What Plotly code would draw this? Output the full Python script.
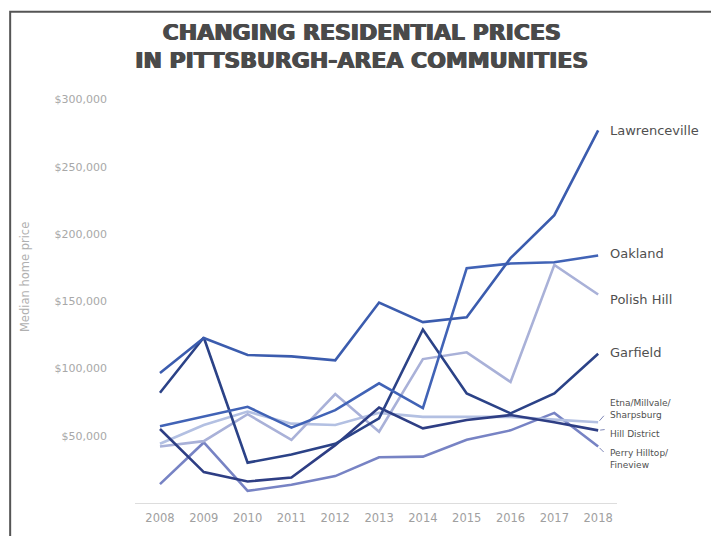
import plotly.graph_objects as go

years = [2008, 2009, 2010, 2011, 2012, 2013, 2014, 2015, 2016, 2017, 2018]

lawrenceville = [96600, 122600, 110000, 109000, 106000, 149000, 134500, 138000, 182000, 214000, 277000]
oakland = [57000, 64000, 71500, 56000, 69000, 89000, 70600, 174600, 178000, 179000, 184000]
polish_hill = [42000, 46000, 66000, 47000, 81000, 53000, 107000, 112000, 90000, 177000, 155000]
garfield = [82000, 123000, 30000, 36000, 44000, 63000, 129000, 81500, 66600, 81500, 111000]
etna = [44000, 58000, 68000, 59000, 58000, 67000, 64000, 64000, 64000, 62000, 60000]
hill_district = [55000, 23000, 16000, 19000, 43000, 71000, 55500, 61700, 65400, 60000, 54000]
perry = [14000, 45000, 9000, 13500, 20000, 34000, 34500, 47000, 54000, 67000, 42000]

series_names = ["Lawrenceville", "Oakland", "Polish Hill", "Garfield",
                "Etna/Millvale/<br>Sharpsburg", "Hill District", "Perry Hilltop/<br>Fineview"]
series_values = [lawrenceville, oakland, polish_hill, garfield, etna, hill_district, perry]
series_colors = ["#3b5cae", "#4163b6", "#a9b1d8", "#2b4287", "#b3c0e2", "#2e3e84", "#7783c4"]
label_y = [277000, 185500, 151000, 112000, 70000, 51000, 33000]
label_size = [13, 13, 13, 13, 9, 9, 9]

y_ticks = [50000, 100000, 150000, 200000, 250000, 300000]
y_tick_text = ["$50,000", "$100,000", "$150,000", "$200,000", "$250,000", "$300,000"]

FONT = "DejaVu Sans, sans-serif"

fig = go.Figure()
draw_order = [6, 4, 2, 5, 3, 1, 0]
for i in draw_order:
    fig.add_trace(go.Scatter(
        x=years, y=series_values[i], mode="lines", name=series_names[i],
        line=dict(color=series_colors[i], width=2.6), showlegend=False,
        hoverinfo="skip"))

annotations = []
for i, name in enumerate(series_names):
    annotations.append(dict(
        x=years[-1], y=label_y[i], xref="x", yref="y", text=name,
        showarrow=False, xanchor="left", yanchor="middle", xshift=10,
        align="left",
        font=dict(family=FONT, size=label_size[i], color="#505050")))

# small leader strokes between line ends and the small labels
for vals, ax, ay in [(etna, 7, -8), (hill_district, 8, -1), (perry, 7, 7)]:
    annotations.append(dict(
        x=years[-1], y=vals[-1], xref="x", yref="y", text="",
        showarrow=True, arrowhead=0, arrowwidth=1, arrowcolor="#8088b8",
        ax=ax, ay=ay, standoff=2, startstandoff=0))

annotations.append(dict(
    x=-0.228, y=0.542, xref="paper", yref="paper", text="Median home price",
    showarrow=False, textangle=-90, xanchor="center", yanchor="middle",
    font=dict(family=FONT, size=11.5, color="#b0b0b0")))

fig.update_layout(
    width=719, height=536,
    margin=dict(l=127, r=110, t=78, b=41),
    paper_bgcolor="white", plot_bgcolor="white",
    title=dict(
        text="CHANGING RESIDENTIAL PRICES<br>IN PITTSBURGH-AREA COMMUNITIES",
        x=0.492, xanchor="center", y=0.941, yanchor="middle",
        font=dict(family=FONT, size=22, color="#4a4a4a", weight="bold",
                  shadow="0.7px 0 0 #4a4a4a, -0.7px 0 0 #4a4a4a")),
    annotations=annotations,
    shapes=[dict(type="rect", xref="paper", yref="paper",
                 x0=-0.259, x1=1.205, y0=-0.2, y1=1.178,
                 line=dict(color="#555555", width=2), layer="below")],
    xaxis=dict(range=[2007.43, 2018.43], tickmode="array", tickvals=years,
               ticktext=[str(y) for y in years], showgrid=False, zeroline=False,
               showline=True, linecolor="#dddddd", linewidth=1, ticks="",
               tickfont=dict(family=FONT, size=11.5, color="#a0a0a0"),
               ticklabelstandoff=4),
    yaxis=dict(range=[0, 310000], tickmode="array", tickvals=y_ticks,
               ticktext=y_tick_text, showgrid=False, zeroline=False,
               showline=False, ticks="", ticklabelstandoff=27,
               tickfont=dict(family=FONT, size=11, color="#a8a8a8")),
)

fig.write_html("out.html")
